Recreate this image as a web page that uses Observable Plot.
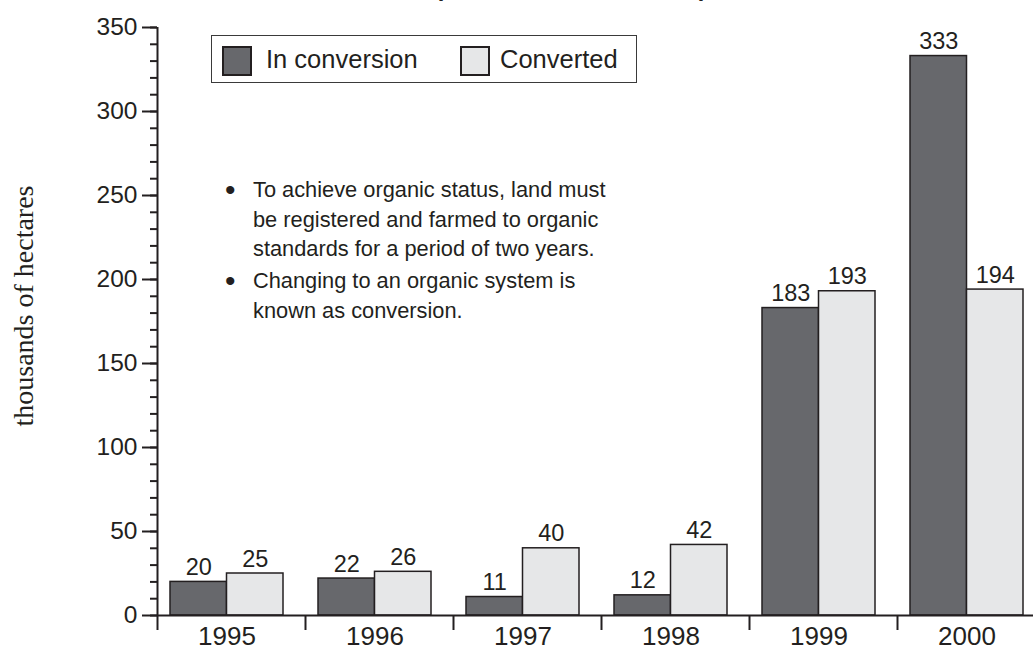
<!DOCTYPE html>
<html><head><meta charset="utf-8">
<script src="https://cdn.jsdelivr.net/npm/d3@7"></script>
<script src="https://cdn.jsdelivr.net/npm/@observablehq/plot@0.6"></script>
<style>
html,body{margin:0;padding:0;background:#fff;overflow:hidden;}
#wrap{position:relative;width:1033px;height:650px;font-family:"Liberation Sans",Arial,sans-serif;color:#231f20;overflow:hidden;}
#title{position:absolute;left:321px;width:500px;text-align:center;top:-24px;line-height:24px;font-weight:bold;font-size:24px;}
#legend{position:absolute;left:211px;top:35px;width:426px;height:48px;box-sizing:border-box;border:1.5px solid #3a3a3a;background:#fff;}
.sw{position:absolute;top:10px;width:30px;height:30px;box-sizing:border-box;border:2.5px solid #231f20;}
.lt{position:absolute;top:6px;font-size:25.5px;line-height:34px;white-space:nowrap;}
#notes{position:absolute;left:0;top:0;}
.para{position:absolute;left:253px;font-size:21.8px;line-height:29.5px;white-space:nowrap;}
.bul{position:absolute;left:-28px;top:0;font-size:30px;line-height:29.5px;}
#ylab{position:absolute;left:24px;top:306px;transform:translate(-50%,-50%) rotate(-90deg);font-family:"Liberation Serif","Times New Roman",serif;font-size:28px;white-space:nowrap;}
</style>
</head><body>
<div id="wrap">
  <div id="chart"></div>
  <div id="title"></div>
  <div id="ylab"></div>
  <div id="legend"></div>
  <div id="notes"></div>
</div>
<script>
// ---- data ----
const years = ["1995", "1996", "1997", "1998", "1999", "2000"];
const inConversion = [20, 22, 11, 12, 183, 333];
const converted = [25, 26, 40, 42, 193, 194];
const seriesNames = ["In conversion", "Converted"];
const yTicksMajor = [0, 50, 100, 150, 200, 250, 300, 350];
const titleText = "(thousands of hectares)";
const yLabel = "thousands of hectares";
const notes = [
  ["To achieve organic status, land must", "be registered and farmed to organic", "standards for a period of two years."],
  ["Changing to an organic system is", "known as conversion."]
];

// ---- styles ----
const ink = "#231f20";
const colors = {"In conversion": "#67686c", "Converted": "#e6e7e8"};
const step = 148;                   // px per category band
const bar = {"In conversion": [13 / step - 0.5, 69.5 / step - 0.5], "Converted": [69.5 / step - 0.5, 126 / step - 0.5]};
const labelShift = -4.5 / step;

const rows = [];
years.forEach((y, i) => {
  rows.push({year: y, i, series: "In conversion", value: inConversion[i]});
  rows.push({year: y, i, series: "Converted", value: converted[i]});
});

const boundaries = years.map((_, i) => i - 0.5);
const minor = d3.range(0, 351, 10);

const chart = Plot.plot({
  width: 1033,
  height: 650,
  marginTop: 27,
  marginBottom: 35,
  marginLeft: 157,
  marginRight: 0,
  style: {fontFamily: "'Liberation Sans', Arial, sans-serif", color: ink, background: "transparent", overflow: "visible"},
  x: {type: "linear", domain: [-0.5, years.length - 0.5], range: [157, 157 + step * years.length], axis: null},
  y: {domain: [0, 350], axis: null},
  marks: [
    Plot.rectY(rows, {
      x1: d => d.i + bar[d.series][0],
      x2: d => d.i + bar[d.series][1],
      y: "value",
      fill: d => colors[d.series],
      stroke: ink,
      strokeWidth: 1.5
    }),
    Plot.text(rows, {
      x: d => d.i + (bar[d.series][0] + bar[d.series][1]) / 2,
      y: "value",
      text: d => String(d.value),
      lineAnchor: "bottom",
      dy: -7,
      fontSize: 23.5,
      fill: ink
    }),
    Plot.axisY({ticks: minor, tickSize: 7, fill: "none", stroke: ink, strokeWidth: 2, label: null}),
    Plot.axisY({ticks: yTicksMajor, tickSize: 15, tickPadding: 5, fontSize: 24.5, stroke: ink, strokeWidth: 2, fill: ink, label: null}),
    Plot.axisX({ticks: boundaries, tickSize: 15, fill: "none", stroke: ink, strokeWidth: 2, label: null}),
    Plot.axisX({ticks: years.map((_, i) => i + labelShift), tickSize: 0, tickPadding: 11, tickFormat: v => years[Math.round(v)], fontSize: 26, fill: ink, label: null}),
    Plot.ruleY([0], {stroke: ink, strokeWidth: 2}),
    Plot.ruleX([-0.5], {y1: 0, y2: 350, stroke: ink, strokeWidth: 2})
  ]
});
document.getElementById("chart").appendChild(chart);

document.getElementById("title").textContent = titleText;
document.getElementById("ylab").textContent = yLabel;

const legend = document.getElementById("legend");
const swLeft = [10, 248], txLeft = [54, 288];
seriesNames.forEach((s, k) => {
  const sw = document.createElement("div");
  sw.className = "sw";
  sw.style.left = swLeft[k] + "px";
  sw.style.background = colors[s];
  legend.appendChild(sw);
  const t = document.createElement("div");
  t.className = "lt";
  t.style.left = txLeft[k] + "px";
  t.textContent = s;
  legend.appendChild(t);
});

const notesEl = document.getElementById("notes");
const paraTop = [175, 266];
notes.forEach((lines, k) => {
  const p = document.createElement("div");
  p.className = "para";
  p.style.top = paraTop[k] + "px";
  const b = document.createElement("span");
  b.className = "bul";
  b.textContent = "•";
  p.appendChild(b);
  lines.forEach((ln, j) => {
    if (j) p.appendChild(document.createElement("br"));
    p.appendChild(document.createTextNode(ln));
  });
  notesEl.appendChild(p);
});
</script>
</body></html>
